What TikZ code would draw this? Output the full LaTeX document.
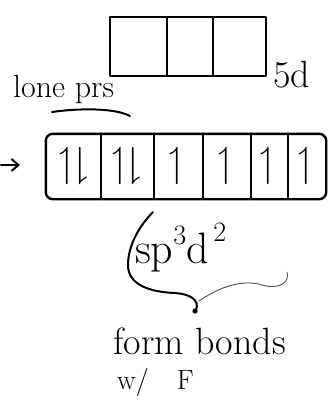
\documentclass[tikz,border=0pt]{standalone}
\usepackage{amssymb}
\usetikzlibrary{arrows.meta}
\begin{document}
\begin{tikzpicture}[x=1pt,y=-1pt,line width=2.4pt,line cap=round,line join=round,
  tcell/.style={draw,rectangle,inner sep=0pt,minimum height=59pt},
  mcell/.style={rectangle,inner sep=0pt,minimum height=63pt,font=\fontsize{42}{42}\selectfont},
  lbl/.style={inner sep=0pt,anchor=base west}]
\useasboundingbox (0,0) rectangle (333,402);
% top 5d box
\node[tcell,minimum width=57pt] (t1) at (138.5,46.5) {};
\node[tcell,minimum width=46pt] (t2) at (190,46.5) {};
\node[tcell,minimum width=53pt] (t3) at (239.5,46.5) {};
\node[lbl,font=\fontsize{38}{38}\selectfont] (l5d) at (272,87) {5d};
% lone pairs
\node[lbl,font=\fontsize{32}{32}\selectfont] (lone) at (12,97) {lone prs};
\draw[line width=2pt] (52,112) .. controls (80,108) and (115,108) .. (130,116);
% middle box
\node[mcell,minimum width=53pt] (m1) at (73.5,166.5) {$\upharpoonleft\!\downharpoonright$};
\node[mcell,minimum width=53pt] (m2) at (126.5,166.5) {$\upharpoonleft\!\downharpoonright$};
\node[mcell,minimum width=49pt] (m3) at (177.5,166.5) {$\upharpoonleft$};
\node[mcell,minimum width=48pt] (m4) at (226,166.5) {$\upharpoonleft$};
\node[mcell,minimum width=37pt] (m5) at (268.5,166.5) {$\upharpoonleft$};
\node[mcell,minimum width=38pt] (m6) at (306,166.5) {$\upharpoonleft$};
\draw[rounded corners=7pt] (m1.north west) rectangle (m6.south east);
\foreach \c in {m1,m2,m3,m4,m5} \draw (\c.north east) -- (\c.south east);
% arrow
\coordinate (a1) at (1,165);
\coordinate (a2) at (20,165);
\draw[line width=2pt,-{Straight Barb[length=7pt,width=12pt]}] (a1) -- (a2);
% hybrid
\node[lbl,font=\fontsize{44}{44}\selectfont] (hyb) at (134,263)
  {sp\raisebox{0.42em}{\fontsize{28}{28}\selectfont 3}d\raisebox{0.5em}{\fontsize{28}{28}\selectfont\,2}};
\draw[line width=2pt] (153,212) .. controls (140,225) and (128,245) .. (128,265)
  .. controls (128,285) and (150,292) .. (175,293) .. controls (190,294) and (200,300) .. (196,310);
\fill (195,311) circle (2.6pt);
\draw[line width=0.9pt,black!70] (199,301) .. controls (215,290) and (240,278) .. (262,285)
  .. controls (280,290) and (290,282) .. (287,272);
% bottom text
\node[lbl,font=\fontsize{38}{38}\selectfont] (form) at (112,354) {form bonds};
\node[lbl,font=\fontsize{28}{28}\selectfont] (wf) at (116,389) {w/\quad F};
\end{tikzpicture}
\end{document}
